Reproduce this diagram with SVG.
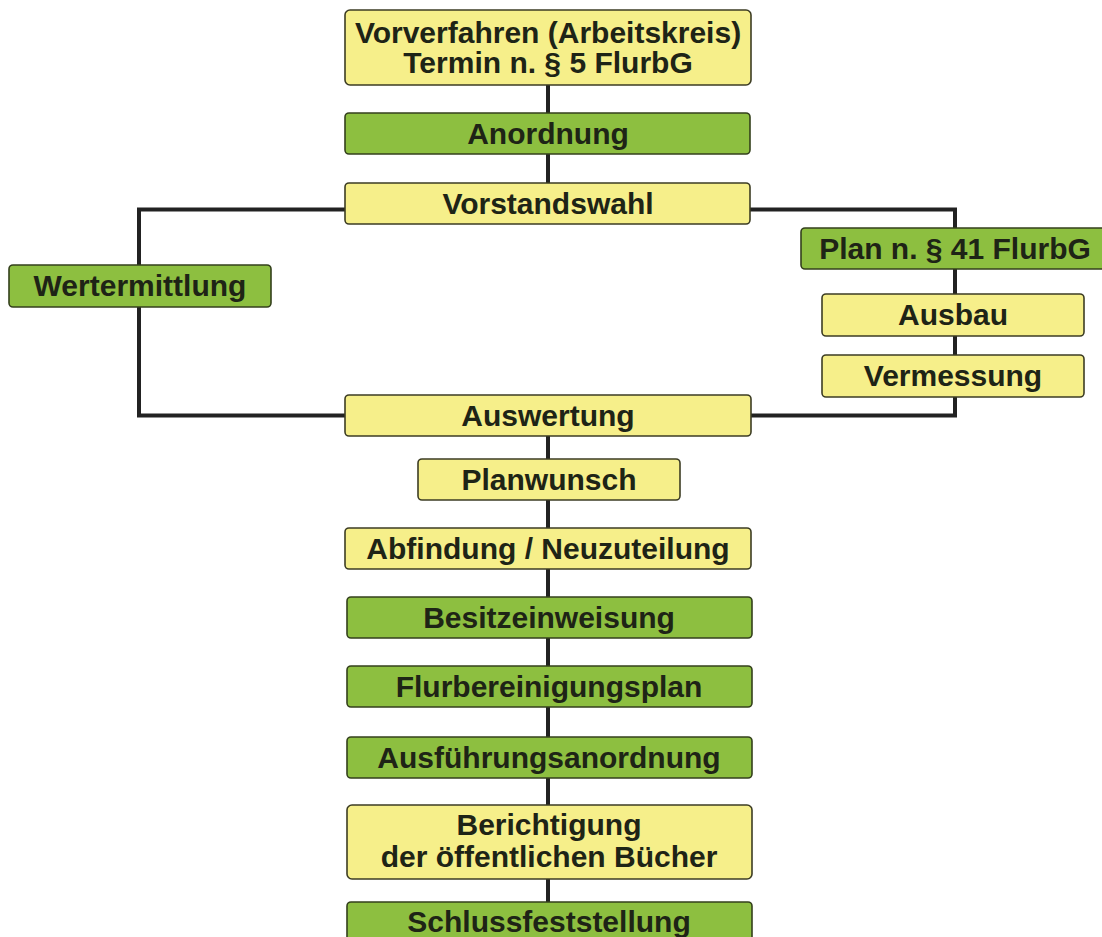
<svg xmlns="http://www.w3.org/2000/svg" width="1102" height="937" viewBox="0 0 1102 937">
<style>
.y{fill:#f6ef8a;stroke:#3d3d24;stroke-width:1.6}
.g{fill:#8dbf40;stroke:#34401c;stroke-width:1.6}
.t{font-family:"Liberation Sans",Arial,sans-serif;font-weight:bold;font-size:30px;fill:#1e2416;text-anchor:middle}
.c{fill:none;stroke:#222;stroke-width:4}
</style>
<rect width="1102" height="937" fill="#fff"/>
<g id="connectors">
<path class="c" d="M548 85V113M548 154V183M548 435V459M548 500V528M548 569V597M548 638V666M548 707V737M548 778V805M548 879V902"/>
<path class="c" d="M345 209.5H139V415.5H345"/>
<path class="c" d="M750 209.5H955V415.5H751"/>
</g>
<g id="n_vorverfahren"><rect class="y" x="345" y="10" width="406" height="75" rx="5"/><text class="t" x="548" y="43">Vorverfahren (Arbeitskreis)</text><text class="t" x="548" y="73">Termin n. § 5 FlurbG</text></g>
<g id="n_anordnung"><rect class="g" x="345" y="113" width="405" height="41" rx="4"/><text class="t" x="548" y="144">Anordnung</text></g>
<g id="n_vorstandswahl"><rect class="y" x="345" y="183" width="405" height="41" rx="4"/><text class="t" x="548" y="214">Vorstandswahl</text></g>
<g id="n_wertermittlung"><rect class="g" x="9" y="265" width="262" height="42" rx="4"/><text class="t" x="140" y="296">Wertermittlung</text></g>
<g id="n_plan41"><rect class="g" x="801" y="228" width="308" height="41" rx="4"/><text class="t" x="955" y="259">Plan n. § 41 FlurbG</text></g>
<g id="n_ausbau"><rect class="y" x="822" y="294" width="262" height="42" rx="4"/><text class="t" x="953" y="325">Ausbau</text></g>
<g id="n_vermessung"><rect class="y" x="822" y="355" width="262" height="42" rx="4"/><text class="t" x="953" y="386">Vermessung</text></g>
<g id="n_auswertung"><rect class="y" x="345" y="395" width="406" height="41" rx="4"/><text class="t" x="548" y="426">Auswertung</text></g>
<g id="n_planwunsch"><rect class="y" x="418" y="459" width="262" height="41" rx="4"/><text class="t" x="549" y="490">Planwunsch</text></g>
<g id="n_abfindung"><rect class="y" x="345" y="528" width="406" height="41" rx="4"/><text class="t" x="548" y="559">Abfindung / Neuzuteilung</text></g>
<g id="n_besitzeinweisung"><rect class="g" x="347" y="597" width="405" height="41" rx="4"/><text class="t" x="549" y="628">Besitzeinweisung</text></g>
<g id="n_flurbereinigungsplan"><rect class="g" x="347" y="666" width="405" height="41" rx="4"/><text class="t" x="549" y="697">Flurbereinigungsplan</text></g>
<g id="n_ausfuehrungsanordnung"><rect class="g" x="347" y="737" width="405" height="41" rx="4"/><text class="t" x="549" y="768">Ausführungsanordnung</text></g>
<g id="n_berichtigung"><rect class="y" x="347" y="805" width="405" height="74" rx="5"/><text class="t" x="549" y="835">Berichtigung</text><text class="t" x="549" y="867">der öffentlichen Bücher</text></g>
<g id="n_schluss"><rect class="g" x="347" y="902" width="405" height="45" rx="4"/><text class="t" x="549" y="932">Schlussfeststellung</text></g>
</svg>
